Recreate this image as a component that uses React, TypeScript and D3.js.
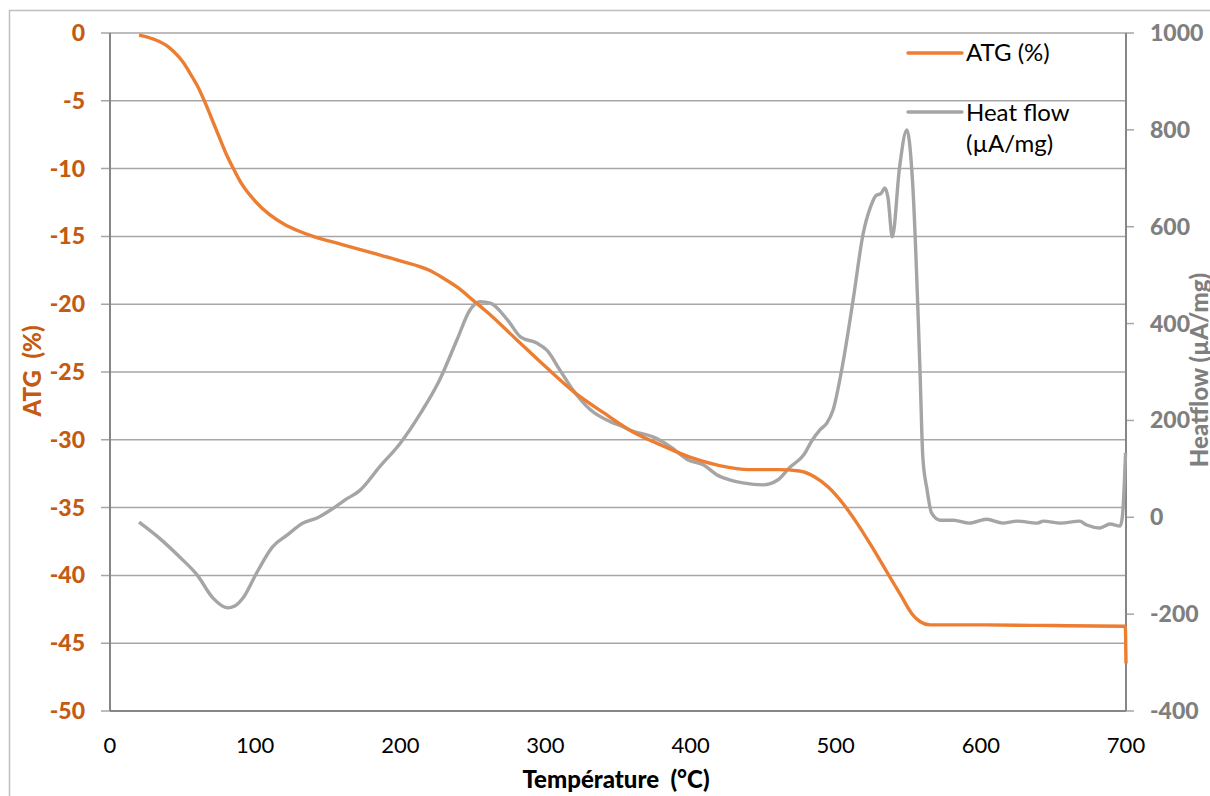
import React from "react";
import * as d3 from "d3";

const atgT = [20, 30, 40, 46, 50, 57, 60, 65, 70, 75, 80, 85, 90, 100, 110, 120, 130, 140, 160, 180, 200, 220, 230, 240, 250, 260, 280, 300, 320, 340, 360, 380, 400, 420, 440, 460, 475, 485, 495, 505, 515, 525, 535, 545, 553, 558, 565, 600, 650, 699.5, 700];
const atgV = [-0.15, -0.45, -1.0, -1.6, -2.1, -3.3, -3.85, -5.0, -6.3, -7.6, -8.9, -10.0, -11.0, -12.4, -13.4, -14.1, -14.6, -15.0, -15.6, -16.2, -16.8, -17.5, -18.1, -18.8, -19.7, -20.6, -22.6, -24.6, -26.5, -28.0, -29.4, -30.4, -31.3, -31.9, -32.2, -32.2, -32.3, -32.7, -33.5, -34.7, -36.2, -37.9, -39.7, -41.5, -42.9, -43.4, -43.65, -43.65, -43.7, -43.75, -46.5];

const hfT = [20, 34, 48, 60, 71, 81, 86, 92, 101, 112, 122, 133, 143, 152, 162, 172, 186, 200, 214, 227, 239, 248, 255, 262, 274, 283, 294, 301, 310, 319, 331, 345, 351, 360, 374, 386, 398, 409, 418, 427, 436, 450, 460, 468, 478, 484, 489, 494, 498, 505, 512, 519, 524, 528, 531, 534, 536, 539, 544, 549, 553, 558, 560, 563, 566, 572, 581, 592, 604, 615, 625, 639, 643, 655, 668, 673, 682, 689, 696, 697.5, 699.7];
const hfV = [-10, -43, -82, -119, -167, -187, -183, -165, -115, -61, -37, -12, -1, 15, 36, 55, 105, 153, 215, 283, 366, 428, 445, 442, 407, 372, 360, 345, 304, 263, 222, 197, 190, 178, 166, 146, 119, 108, 88, 77, 71, 67, 77, 102, 129, 160, 180, 195, 220, 319, 449, 587, 641, 665, 668, 680, 660, 579, 723, 800, 690, 310, 125, 56, 9, -6, -6, -12, -4, -12, -8, -12, -8, -12, -8, -16, -22, -14, -18, 1, 133];

const xTicks = [0, 100, 200, 300, 400, 500, 600, 700];
const leftTicks = [0, -5, -10, -15, -20, -25, -30, -35, -40, -45, -50];
const rightTicks = [1000, 800, 600, 400, 200, 0, -200, -400];

const FONT = "Lato, 'Open Sans', sans-serif";

export default function App() {
  const L = 110, R = 1126, T = 33, B = 711;
  const x = d3.scaleLinear().domain([0, 700]).range([L, R]);
  const yL = d3.scaleLinear().domain([-50, 0]).range([B, T]);
  const yR = d3.scaleLinear().domain([-400, 1000]).range([B, T]);

  const atgData = atgT.map((t, i) => [t, atgV[i]] as [number, number]);
  const hfData = hfT.map((t, i) => [t, hfV[i]] as [number, number]);

  const atgLine = d3.line<[number, number]>().x(d => x(d[0])).y(d => yL(d[1])).curve(d3.curveMonotoneX);
  const hfLine = d3.line<[number, number]>().x(d => x(d[0])).y(d => yR(d[1])).curve(d3.curveMonotoneX);

  return (
    <svg width={1210} height={796} style={{ position: "absolute", left: 0, top: 0, background: "#fff" }} fontFamily={FONT}>
      <rect x={9.5} y={10.5} width={1220} height={800} fill="#fff" stroke="#BFBFBF" strokeWidth={1.5} />
      {leftTicks.filter(v => v !== -50).map(v => (
        <line key={"g" + v} x1={101} x2={R} y1={yL(v)} y2={yL(v)} stroke="#A6A6A6" strokeWidth={1.5} />
      ))}
      <line x1={101} x2={L} y1={B} y2={B} stroke="#A6A6A6" strokeWidth={1.5} />
      {rightTicks.map(v => (
        <line key={"rt" + v} x1={R} x2={1134} y1={yR(v)} y2={yR(v)} stroke="#A6A6A6" strokeWidth={1.5} />
      ))}
      <line x1={L} x2={L} y1={T} y2={B} stroke="#868686" strokeWidth={2} />
      <line x1={R} x2={R} y1={T} y2={B} stroke="#868686" strokeWidth={2} />
      <line x1={L} x2={R} y1={B} y2={B} stroke="#868686" strokeWidth={2} />

      {leftTicks.map(v => (
        <text key={"lt" + v} x={85} y={yL(v) + 8} textAnchor="end" fontSize={23} fontWeight={900} fill="#C55A11">{v}</text>
      ))}
      {rightTicks.map(v => (
        <text key={"rl" + v} x={1150} y={yR(v) + 8} textAnchor="start" fontSize={23} fontWeight={900} fill="#7F7F7F">{v}</text>
      ))}
      {xTicks.map(v => (
        <text key={"xt" + v} x={x(v)} y={753} textAnchor="middle" fontSize={22} fill="#000">{v}</text>
      ))}

      <path d={hfLine(hfData) || ""} fill="none" stroke="#A5A5A5" strokeWidth={3.4} strokeLinejoin="round" />
      <path d={atgLine(atgData) || ""} fill="none" stroke="#ED7D31" strokeWidth={3.4} strokeLinejoin="round" />

      <text x={616} y={788} textAnchor="middle" fontSize={24} fontWeight={900} fill="#000" style={{ whiteSpace: "pre" }}>{"Température  (°C)"}</text>
      <text transform="translate(41,371) rotate(-90)" textAnchor="middle" fontSize={24} fontWeight={900} fill="#C55A11" style={{ whiteSpace: "pre" }}>{"ATG  (%)"}</text>
      <text transform="translate(1208,370) rotate(-90)" textAnchor="middle" fontSize={24} fontWeight={900} fill="#7F7F7F">Heatflow (µA/mg)</text>

      <line x1={908} x2={962} y1={53} y2={53} stroke="#ED7D31" strokeWidth={3.4} strokeLinecap="round" />
      <text x={966} y={61} fontSize={24} fill="#000">ATG (%)</text>
      <line x1={908} x2={962} y1={112} y2={112} stroke="#A5A5A5" strokeWidth={3.4} strokeLinecap="round" />
      <text x={966} y={121} fontSize={24} fill="#000">Heat flow</text>
      <text x={966} y={152} fontSize={24} fill="#000">(µA/mg)</text>
    </svg>
  );
}
